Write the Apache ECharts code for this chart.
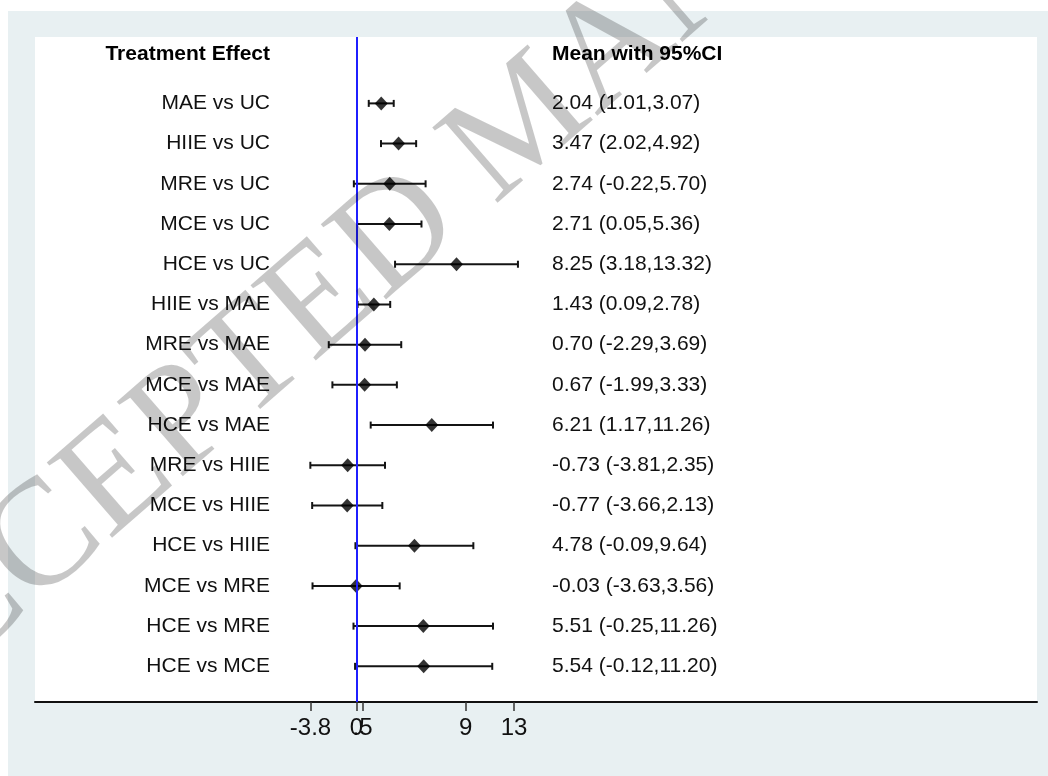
<!DOCTYPE html>
<html>
<head>
<meta charset="utf-8">
<script src="https://cdn.jsdelivr.net/npm/echarts@6/dist/echarts.min.js"></script>
<style>
  html, body { margin: 0; padding: 0; background: #ffffff; }
  #bg { position: absolute; left: 8px; top: 11px; width: 1040px; height: 765px; background: #e8f0f2; }
  #chart { position: absolute; left: 0; top: 0; width: 1048px; height: 776px; }
</style>
</head>
<body>
<div id="bg"></div>
<div id="chart"></div>
<script>
const rowLabels = [
  'MAE vs UC', 'HIIE vs UC', 'MRE vs UC', 'MCE vs UC', 'HCE vs UC',
  'HIIE vs MAE', 'MRE vs MAE', 'MCE vs MAE', 'HCE vs MAE',
  'MRE vs HIIE', 'MCE vs HIIE', 'HCE vs HIIE',
  'MCE vs MRE', 'HCE vs MRE', 'HCE vs MCE'
];
const means = [2.04, 3.47, 2.74, 2.71, 8.25, 1.43, 0.70, 0.67, 6.21, -0.73, -0.77, 4.78, -0.03, 5.51, 5.54];
const lows  = [1.01, 2.02, -0.22, 0.05, 3.18, 0.09, -2.29, -1.99, 1.17, -3.81, -3.66, -0.09, -3.63, -0.25, -0.12];
const highs = [3.07, 4.92, 5.70, 5.36, 13.32, 2.78, 3.69, 3.33, 11.26, 2.35, 2.13, 9.64, 3.56, 11.26, 11.20];
const tickValues = [-3.8, 0, 0.5, 9, 13];
const tickLabels = ['-3.8', '0', '.5', '9', '13'];
const headerLeft = 'Treatment Effect';
const headerRight = 'Mean with 95%CI';
const watermark = 'ACCEPTED MANUSCRIPT';

const FONT = '"Liberation Sans", Arial, Helvetica, sans-serif';
const fmt = v => v.toFixed(2);

const rows = rowLabels.map((name, i) => [i + 1, means[i], lows[i], highs[i], name]);

const chart = echarts.init(document.getElementById('chart'), null, { renderer: 'canvas' });

chart.setOption({
  backgroundColor: 'transparent',
  animation: false,
  grid: { left: 35, right: 11, top: 37, bottom: 74, show: true, backgroundColor: '#ffffff', borderWidth: 0 },
  xAxis: {
    type: 'value', min: -26.53, max: 56.15,
    splitLine: { show: false },
    axisLine: { show: true, onZero: false, lineStyle: { color: '#111', width: 2 } },
    axisTick: { show: true, customValues: tickValues, length: 9, lineStyle: { color: '#333', width: 1.5 } },
    axisLabel: {
      customValues: tickValues,
      formatter: v => tickLabels[tickValues.indexOf(v)],
      fontSize: 24, fontFamily: FONT, color: '#111', margin: 14
    }
  },
  yAxis: {
    type: 'value', inverse: true, min: -0.651, max: 15.887,
    axisLine: { show: false }, axisTick: { show: false }, axisLabel: { show: false }, splitLine: { show: false }
  },
  series: [
    {
      type: 'custom',
      name: 'ci',
      data: rows.map(r => [r[0], r[2], r[3]]),
      encode: { x: [1, 2], y: 0 },
      renderItem: (params, api) => {
        const y = api.value(0);
        const a = api.coord([api.value(1), y]);
        const b = api.coord([api.value(2), y]);
        const h = 3.5;
        const st = { stroke: '#141414', lineWidth: 2 };
        return {
          type: 'group',
          children: [
            { type: 'line', shape: { x1: a[0], y1: a[1], x2: b[0], y2: b[1] }, style: st },
            { type: 'line', shape: { x1: a[0], y1: a[1] - h, x2: a[0], y2: a[1] + h }, style: st },
            { type: 'line', shape: { x1: b[0], y1: b[1] - h, x2: b[0], y2: b[1] + h }, style: st }
          ]
        };
      },
      z: 3
    },
    {
      type: 'scatter',
      name: 'mean',
      data: rows.map(r => [r[1], r[0]]),
      symbol: 'diamond',
      symbolSize: [13, 14],
      itemStyle: { color: '#000' },
      z: 4,
      markLine: {
        silent: true, symbol: 'none', label: { show: false },
        lineStyle: { color: '#1f1fff', width: 2, type: 'solid' },
        data: [{ xAxis: 0 }]
      }
    },
    {
      type: 'custom',
      name: 'text',
      data: rows.map(r => [r[0], r[1], r[2], r[3]]),
      encode: { y: 0 },
      renderItem: (params, api) => {
        const i = params.dataIndex;
        const p = api.coord([0, api.value(0)]);
        return {
          type: 'group',
          children: [
            { type: 'text', x: 270, y: p[1], style: { text: rowLabels[i], font: '21px ' + FONT, fill: '#111', textAlign: 'right', textVerticalAlign: 'middle' } },
            { type: 'text', x: 552, y: p[1], style: { text: fmt(means[i]) + ' (' + fmt(lows[i]) + ',' + fmt(highs[i]) + ')', font: '21px ' + FONT, fill: '#111', textAlign: 'left', textVerticalAlign: 'middle' } }
          ]
        };
      },
      z: 5
    }
  ],
  graphic: [
    { type: 'text', x: 270, y: 54, z: 10, style: { text: headerLeft, font: 'bold 21px ' + FONT, fill: '#000', textAlign: 'right', textVerticalAlign: 'middle' } },
    { type: 'text', x: 552, y: 54, z: 10, style: { text: headerRight, font: 'bold 21px ' + FONT, fill: '#000', textAlign: 'left', textVerticalAlign: 'middle' } },
    { type: 'text', x: 527, y: 124, rotation: 41 * Math.PI / 180, z: 100, silent: true,
      style: { text: watermark, font: '152px "Liberation Serif", "Times New Roman", serif', fill: 'rgba(0,0,0,0.22)', textAlign: 'center', textVerticalAlign: 'middle' } }
  ]
});
</script>
</body>
</html>
